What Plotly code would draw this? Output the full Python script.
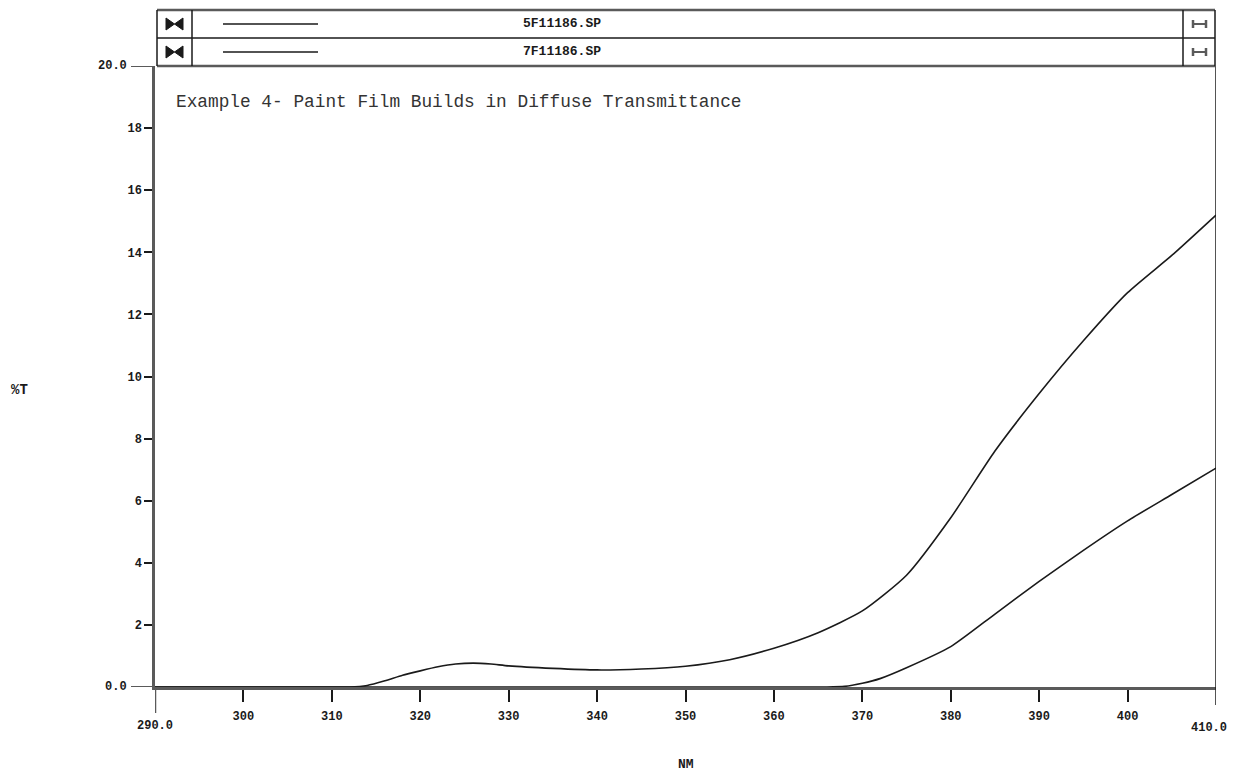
import plotly.graph_objects as go

# ---- data ----
wavelength_upper = [290, 300, 310, 312, 314, 316, 318, 320, 322, 324, 326, 328, 330, 335, 340, 345, 350, 355,
                    360, 365, 370, 375, 380, 385, 390, 395, 400, 405, 410]
transmit_5f = [0, 0, 0, 0, 0.05, 0.2, 0.38, 0.52, 0.65, 0.74, 0.77, 0.74, 0.68, 0.6, 0.55, 0.58, 0.67, 0.88,
               1.25, 1.75, 2.45, 3.6, 5.45, 7.6, 9.45, 11.15, 12.7, 13.9, 15.2]
wavelength_lower = [290, 320, 350, 366, 368, 370, 372, 375, 380, 385, 390, 395, 400, 405, 410]
transmit_7f = [0, 0, 0, 0, 0.02, 0.12, 0.27, 0.62, 1.3, 2.35, 3.4, 4.4, 5.35, 6.2, 7.05]
series_names = ["5F11186.SP", "7F11186.SP"]
x_ticks = [300, 310, 320, 330, 340, 350, 360, 370, 380, 390, 400]
y_ticks = [2, 4, 6, 8, 10, 12, 14, 16, 18]
chart_note = "Example 4- Paint Film Builds in Diffuse Transmittance"

# ---- geometry (screen pixels; page body has an 8px margin) ----
OFF = 8
W, H = 1238 - 2 * OFF, 782 - 2 * OFF
L, R, T, B = 155, 1216, 66, 687          # plot area in screen pixels


def px(x):
    return (x - L) / (R - L)


def py(y):
    return (B - y) / (B - T)


MONO = "Liberation Mono"
INK = "#1a1a1a"
GREY = "#5a5a5a"

fig = go.Figure()
fig.add_trace(go.Scatter(x=wavelength_upper, y=transmit_5f, mode="lines", name=series_names[0],
                         line=dict(color=INK, width=1.6, shape="spline", smoothing=0.6), showlegend=False))
fig.add_trace(go.Scatter(x=wavelength_lower, y=transmit_7f, mode="lines", name=series_names[1],
                         line=dict(color=INK, width=1.6, shape="spline", smoothing=0.6), showlegend=False))

shapes = []
# axis extensions
shapes.append(dict(type="line", xref="paper", yref="y", x0=px(131), x1=0, y0=20, y1=20,
                   line=dict(color=GREY, width=2)))
shapes.append(dict(type="line", xref="paper", yref="y", x0=px(131), x1=0, y0=0, y1=0,
                   line=dict(color=GREY, width=2)))
shapes.append(dict(type="line", xref="x", yref="paper", x0=290, x1=290, y0=0, y1=py(713),
                   line=dict(color=GREY, width=2.5)))
# right border, running below the axis
shapes.append(dict(type="line", xref="x", yref="paper", x0=410, x1=410, y0=py(66), y1=py(705),
                   line=dict(color=INK, width=1.5)))

# legend box
box_l, box_r = 157, 1215
rows = [(10, 38), (38, 66)]
shapes.append(dict(type="line", xref="paper", yref="paper", x0=px(box_l), x1=px(box_r), y0=py(10), y1=py(10),
                   line=dict(color=GREY, width=2.5)))
shapes.append(dict(type="line", xref="paper", yref="paper", x0=px(box_l), x1=px(box_r), y0=py(38), y1=py(38),
                   line=dict(color=INK, width=1.5)))
shapes.append(dict(type="line", xref="paper", yref="paper", x0=px(box_l), x1=px(box_r), y0=py(66), y1=py(66),
                   line=dict(color=GREY, width=2.5)))
for xv in (box_l, 192, 1183, box_r):
    shapes.append(dict(type="line", xref="paper", yref="paper", x0=px(xv), x1=px(xv), y0=py(10), y1=py(66),
                       line=dict(color=INK, width=1.5)))
for (top, bot) in rows:
    cy = (top + bot) / 2
    # bowtie icon
    path = (f"M {px(166)} {py(cy-6)} L {px(174.5)} {py(cy)} L {px(166)} {py(cy+6)} Z "
            f"M {px(183)} {py(cy-6)} L {px(174.5)} {py(cy)} L {px(183)} {py(cy+6)} Z")
    shapes.append(dict(type="path", xref="paper", yref="paper", path=path,
                       fillcolor=INK, line=dict(color=INK, width=1)))
    # sample line
    shapes.append(dict(type="line", xref="paper", yref="paper", x0=px(223), x1=px(318), y0=py(cy), y1=py(cy),
                       line=dict(color=INK, width=1.3)))
    # right icon |-|
    shapes.append(dict(type="line", xref="paper", yref="paper", x0=px(1193), x1=px(1206), y0=py(cy), y1=py(cy),
                       line=dict(color=GREY, width=2)))
    for xv in (1193, 1206):
        shapes.append(dict(type="line", xref="paper", yref="paper", x0=px(xv), x1=px(xv),
                           y0=py(cy - 4), y1=py(cy + 4), line=dict(color=GREY, width=2.5)))

annotations = []
for (top, bot), name in zip(rows, series_names):
    annotations.append(dict(text=f"<b>{name}</b>", xref="paper", yref="paper", x=px(562), y=py((top + bot) / 2),
                            xanchor="center", yanchor="middle", showarrow=False,
                            font=dict(family=MONO, size=13, color=INK)))
annotations.append(dict(text=chart_note, xref="paper", yref="paper", x=px(174), y=py(102),
                        xanchor="left", yanchor="middle", showarrow=False,
                        font=dict(family=MONO, size=17.8, color="#333")))
annotations.append(dict(text="<b>20.0</b>", xref="paper", yref="y", x=px(129), y=20, xanchor="right",
                        yanchor="middle", showarrow=False, font=dict(family=MONO, size=12, color=INK)))
annotations.append(dict(text="<b>0.0</b>", xref="paper", yref="y", x=px(129), y=0, xanchor="right",
                        yanchor="middle", showarrow=False, font=dict(family=MONO, size=12, color=INK)))
annotations.append(dict(text="<b>290.0</b>", xref="x", yref="paper", x=290, y=py(726), xanchor="center",
                        yanchor="middle", showarrow=False, font=dict(family=MONO, size=12, color=INK)))
annotations.append(dict(text="<b>410.0</b>", xref="paper", yref="paper", x=px(1229), y=py(728), xanchor="right",
                        yanchor="middle", showarrow=False, font=dict(family=MONO, size=12, color=INK)))
annotations.append(dict(text="<b>%T</b>", xref="paper", yref="paper", x=px(19), y=py(390), xanchor="center",
                        yanchor="middle", showarrow=False, font=dict(family=MONO, size=14, color=INK)))
annotations.append(dict(text="<b>NM</b>", xref="paper", yref="paper", x=0.5, y=py(764), xanchor="center",
                        yanchor="middle", showarrow=False, font=dict(family=MONO, size=13, color=INK)))

fig.update_layout(
    width=W, height=H,
    margin=dict(l=L - OFF, r=(W + OFF) - R, t=T - OFF, b=(H + OFF) - B),
    paper_bgcolor="white", plot_bgcolor="white",
    shapes=shapes, annotations=annotations,
    xaxis=dict(range=[290, 410], tickvals=x_ticks, ticktext=[f"<b>{v}</b>" for v in x_ticks],
               ticks="outside", ticklen=12, tickwidth=1.5, tickcolor=INK, ticklabelstandoff=4,
               showline=True, linecolor=GREY, linewidth=2.5, mirror=False,
               showgrid=False, zeroline=False, tickfont=dict(family=MONO, size=12, color=INK)),
    yaxis=dict(range=[0, 20], tickvals=y_ticks, ticktext=[f"<b>{v}</b>" for v in y_ticks],
               ticks="outside", ticklen=8, tickwidth=1.5, tickcolor=INK,
               showline=True, linecolor=GREY, linewidth=2.5, mirror=False,
               showgrid=False, zeroline=False, tickfont=dict(family=MONO, size=12, color=INK)),
)

fig.write_html("out.html")
